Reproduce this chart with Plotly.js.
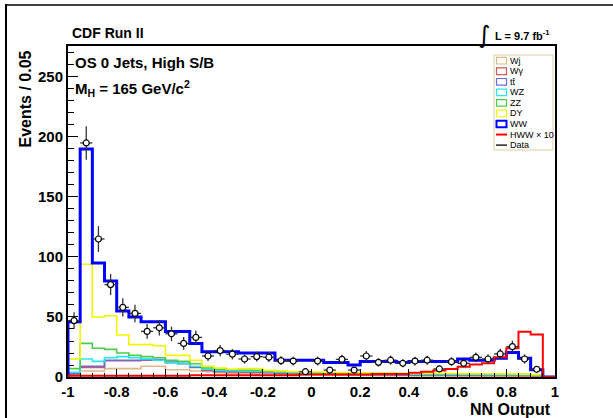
<!DOCTYPE html>
<html>
<head>
<meta charset="utf-8">
<script src="https://cdn.plot.ly/plotly-3.0.1.min.js"></script>
<style>
html,body{margin:0;padding:0;background:#fff;}
#chart{width:613px;height:418px;}
</style>
</head>
<body>
<div id="chart"></div>
<script>
// ---- Data: NN output histogram, 40 bins of width 0.05 from -1 to 1 ----
const binLow = -1.0;
const binWidth = 0.05;
const nBins = 40;

// Stacked background levels (cumulative top of each stack layer)
const wjStack   = [2,5,5,7,7,7,9,9,6,6,5,4.5, 3.5,3.2,3,2.8,2.5,2.2,2,1.9, 1.6,1.5,1.4,1.3,1.2,1.1,1.0,1,0.9,0.9, 0.9,0.8,0.8,0.8,0.7,0.7,0.7,0.6,0.5,0];
const wgStack   = [2.5,8,8,13.5,13.5,13.5,14,14,12,11,8,5.5, 4.5,4.2,4,3.8,3.5,3.1,2.8,2.6, 2.3,2.1,2,1.9,1.8,1.7,1.6,1.5,1.5,1.4, 1.4,1.3,1.3,1.3,1.2,1.2,1.2,1.1,1,0];
const ttStack   = [3,9,9,14,14,14,14.5,14.5,12.5,11.5,8.5,6, 5,4.6,4.4,4.2,3.9,3.5,3.2,3, 2.7,2.5,2.4,2.2,2.1,2,1.9,1.8,1.8,1.7, 1.7,1.6,1.6,1.6,1.5,1.5,1.5,1.4,1.2,0];
const wzStack   = [4,15,13,16,17,16,15,14,12,11,9,6.5, 5.5,5.2,5,4.8,4.4,4,3.7,3.5, 3.2,3,2.9,2.7,2.6,2.5,2.4,2.3,2.3,2.2, 2.2,2.1,2.1,2.1,2,2,2,1.9,1.6,0];
const zzStack   = [7,28,24,23,20,18,17,16,14,13,11,7.5, 6.5,6,5.8,5.5,5,4.5,4.2,4, 3.6,3.4,3.3,3.1,3,2.9,2.8,2.7,2.7,2.6, 2.6,2.5,2.5,2.5,2.4,2.4,2.3,2.2,1.8,0];
const dyStack   = [15,94,50,51,35,27,27,26,18,18,14,9, 7.5,6.5,7,7,5.5,5,4.5,4.5, 4.2,4,3.8,3.6,3.4,3.3,3.2,3.1,3,3, 2.9,2.9,2.8,2.8,2.7,2.6,2.6,2.4,2,0];
const wwStack   = [46,190,95,80,55,50,46,46,38,38,28,21, 21,21,20,20,20,14,14,14, 14,12,12,10,13,13,13,12,13,13, 13,13,15,14,14,15.6,20.5,15.6,6,0];
// Signal HWW x 10 (not stacked)
const hwwX10    = [1,1,1,1,1,1,1,1,1,1,1.5,1.5, 1.5,1.5,1.5,1.5,1.5,1.5,1.5,2, 2,2,2,2,2,2.5,2.5,2.5,3.6,4.4, 5.5,6.7,8.6,10.5,11.4,16.4,24,37.8,35.5,0];
// Observed data (bins 0..38)
const dataCounts = [47,195,115,77,58,53,38,41,36,28,33,17.5, 22,19,15,17,16.5,13.6,13.3,4.4, 13.3,5.8,14.7,5.8,17.5,12.2,14,11.4,13.3,14, 6.7,12.8,11.4,16.4,15,19.2,25.3,15,6.4];

const xTickVals = [-1,-0.8,-0.6,-0.4,-0.2,0,0.2,0.4,0.6,0.8,1];
const xTickText = ['-1','-0.8','-0.6','-0.4','-0.2','0','0.2','0.4','0.6','0.8','1'];
const yTickVals = [0,50,100,150,200,250];

const legendLabels = ['Wj','W\u03b3','tt\u0304','WZ','ZZ','DY','WW','HWW \u00d7 10','Data'];

// ---- styling ----
const colors = {
  wj:'#dcb888', wg:'#cc5a5a', tt:'#6a6ae0', wz:'#22e8f0', zz:'#4ccc4c', dy:'#f4f400', ww:'#0000ff', hww:'#ff0000', data:'#000000'
};

const edges = Array.from({length:nBins+1},(_,i)=> +(binLow + binWidth*i).toFixed(4));
const centers = Array.from({length:nBins},(_,i)=> +(binLow + binWidth*(i+0.5)).toFixed(4));

function stepTrace(vals, color, width){
  const xs=[edges[0]], ys=[0];
  for(let i=0;i<nBins;i++){ xs.push(edges[i]); ys.push(vals[i]); }
  xs.push(edges[nBins]); ys.push(vals[nBins-1]);
  return {x:xs, y:ys, type:'scatter', mode:'lines', line:{shape:'hv', color:color, width:width}, showlegend:false, hoverinfo:'skip'};
}

const traces = [
  stepTrace(wjStack, colors.wj, 1.6),
  stepTrace(wgStack, colors.wg, 1.6),
  stepTrace(ttStack, colors.tt, 1.6),
  stepTrace(wzStack, colors.wz, 1.6),
  stepTrace(zzStack, colors.zz, 1.6),
  stepTrace(dyStack, colors.dy, 1.6),
  stepTrace(wwStack, colors.ww, 3),
  stepTrace(hwwX10, colors.hww, 2)
];

const dx = centers.slice(0, dataCounts.length);
traces.push({
  x: dx, y: dataCounts, type:'scatter', mode:'markers', showlegend:false, hoverinfo:'skip',
  marker:{symbol:'circle', size:6, color:'#ffffff', line:{color:'#000000', width:1.2}},
  error_y:{type:'data', array:dataCounts.map(v=>Math.sqrt(v)), color:'#333333', thickness:1.3, width:0},
  error_x:{type:'constant', value:binWidth/2, color:'#333333', thickness:1.3, width:0}
});

// pixel -> paper helpers (plot area: x 68..555, y 46..377)
const L=68, R=555, T=46, B=377;
const px = p => (p-L)/(R-L);
const py = p => (B-p)/(B-T);

const shapes = [];
const annotations = [];
// canvas border (left and top)
shapes.push({type:'line', xref:'paper', yref:'paper', x0:px(6), x1:px(6), y0:py(4), y1:py(418), line:{color:'#000', width:2}});
shapes.push({type:'line', xref:'paper', yref:'paper', x0:px(5), x1:px(613), y0:py(5), y1:py(5), line:{color:'#000', width:1.5}});

// legend box
shapes.push({type:'rect', xref:'paper', yref:'paper', x0:px(494), x1:px(553), y0:py(150), y1:py(55), line:{color:'#e4cca4', width:1}, fillcolor:'#ffffff', layer:'above'});
const legendColors = [colors.wj, colors.wg, colors.tt, colors.wz, colors.zz, colors.dy, colors.ww];
legendLabels.forEach((lab,i)=>{
  const yc = 60.7 + i*10.55;
  if(i<7){
    shapes.push({type:'rect', xref:'paper', yref:'paper', x0:px(496.5), x1:px(506.5), y0:py(yc+3.3), y1:py(yc-3.3),
      line:{color:legendColors[i], width: i===6 ? 2 : 1.2}, fillcolor:'#ffffff', layer:'above'});
  } else {
    shapes.push({type:'line', xref:'paper', yref:'paper', x0:px(496), x1:px(507), y0:py(yc), y1:py(yc),
      line:{color: i===7 ? colors.hww : '#000', width: i===7 ? 2 : 1.3}, layer:'above'});
  }
  annotations.push({xref:'paper', yref:'paper', x:px(508), y:py(yc), xanchor:'left', yanchor:'middle', showarrow:false,
    text:lab, font:{family:'Liberation Sans, Arial, sans-serif', size:9, color:'#000'}});
});

// texts
annotations.push({xref:'paper', yref:'paper', x:px(70), y:py(33), xanchor:'left', yanchor:'middle', showarrow:false,
  text:'<b>CDF Run II</b>', font:{family:'Liberation Sans, Arial, sans-serif', size:14, color:'#000'}});
annotations.push({xref:'paper', yref:'paper', x:px(73), y:py(62), xanchor:'left', yanchor:'middle', showarrow:false,
  text:'<b>OS 0 Jets, High S/B</b>', font:{family:'Liberation Sans, Arial, sans-serif', size:15, color:'#000'}});
annotations.push({xref:'paper', yref:'paper', x:px(73), y:py(88), xanchor:'left', yanchor:'middle', showarrow:false,
  text:'<b>M<sub>H</sub> = 165 GeV/c<sup>2</sup></b>', font:{family:'Liberation Sans, Arial, sans-serif', size:15, color:'#000'}});
annotations.push({xref:'paper', yref:'paper', x:px(484), y:py(35), xanchor:'center', yanchor:'middle', showarrow:false,
  text:'\u222b', font:{family:'DejaVu Sans, sans-serif', size:24, color:'#000'}});
annotations.push({xref:'paper', yref:'paper', x:px(493), y:py(35), xanchor:'left', yanchor:'middle', showarrow:false,
  text:'<b>L = 9.7 fb<sup>-1</sup></b>', font:{family:'Liberation Sans, Arial, sans-serif', size:11, color:'#000'}});
annotations.push({xref:'paper', yref:'paper', x:px(25), y:py(49), xanchor:'center', yanchor:'top', textangle:-90, showarrow:false,
  text:'<b>Events / 0.05</b>', font:{family:'Liberation Sans, Arial, sans-serif', size:16, color:'#000'}});
annotations.push({xref:'paper', yref:'paper', x:px(553), y:py(409), xanchor:'right', yanchor:'middle', showarrow:false,
  text:'<b>NN Output</b>', font:{family:'Liberation Sans, Arial, sans-serif', size:16, color:'#000'}});

const layout = {
  width:613, height:418,
  margin:{l:L, r:613-R, t:T, b:418-B, pad:0},
  paper_bgcolor:'#ffffff', plot_bgcolor:'#ffffff',
  showlegend:false,
  xaxis:{range:[-1,1], tickmode:'array', tickvals:xTickVals, ticktext:xTickText,
    ticks:'inside', ticklen:8, tickwidth:1, tickcolor:'#000',
    minor:{tickmode:'linear', tick0:-1, dtick:0.05, ticks:'inside', ticklen:4, tickwidth:1, tickcolor:'#000', showgrid:false},
    showline:true, linecolor:'#000', linewidth:2, mirror:true, showgrid:false, zeroline:false,
    tickfont:{family:'Liberation Sans, Arial, sans-serif', size:15, color:'#000', weight:700}},
  yaxis:{range:[0,275.8], tickmode:'array', tickvals:yTickVals,
    ticks:'inside', ticklen:10, tickwidth:1, tickcolor:'#000',
    minor:{tickmode:'linear', tick0:0, dtick:10, ticks:'inside', ticklen:6, tickwidth:1, tickcolor:'#000', showgrid:false},
    showline:true, linecolor:'#000', linewidth:2, mirror:true, showgrid:false, zeroline:false,
    tickfont:{family:'Liberation Sans, Arial, sans-serif', size:15, color:'#000', weight:700}},
  shapes:shapes,
  annotations:annotations
};

Plotly.newPlot('chart', traces, layout, {staticPlot:true, displayModeBar:false});
</script>
</body>
</html>
